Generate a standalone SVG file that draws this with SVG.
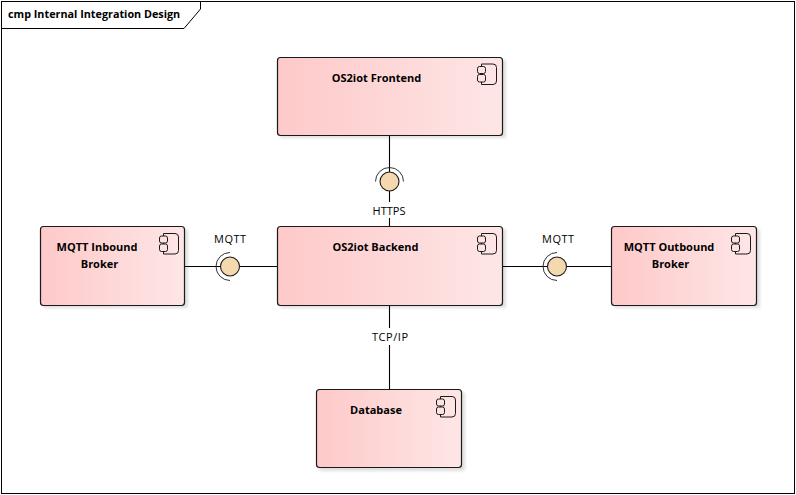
<svg xmlns="http://www.w3.org/2000/svg" width="796" height="495" viewBox="0 0 796 495">
<style>
text{font-family:"Open Sans","Noto Sans","DejaVu Sans",sans-serif;fill:#000}
.t{font-size:11px;font-weight:700;text-anchor:middle}
.l{font-size:11px;text-anchor:middle}
.box{fill:url(#g);stroke:#1a1a1a;stroke-width:1.2}
.shadow{fill:#000;opacity:.13;filter:url(#b)}
.ic{fill:none;stroke:#1a1a1a;stroke-width:1}
.c{fill:none;stroke:#000;stroke-width:1.1}
.ball{fill:#f5d9ae;stroke:#1a1a1a;stroke-width:1.1}
.sock{fill:none;stroke:#333;stroke-width:1}
.bg{fill:#fff}
</style>
<defs>
<linearGradient id="g" x1="0" x2="1" y1="0" y2="0"><stop offset="0" stop-color="#fec9c9"/><stop offset="1" stop-color="#fee6e6"/></linearGradient>
<filter id="b" x="-10%" y="-10%" width="120%" height="120%"><feGaussianBlur stdDeviation="1.5"/></filter>
<g id="icon">
<path class="ic" d="M-8.500 -7.500V-10H3Q6.500 -10 6.500 -6.500V7Q6.500 10.500 3 10.500H-8.500V8M-8.500 -0.500V0.500"/>
<rect class="ic" x="-12.500" y="-7.500" width="8" height="7" rx="2"/>
<rect class="ic" x="-12.500" y="0.500" width="8" height="7.500" rx="2"/>
</g>
</defs>
<rect class="bg" width="796" height="495"/>
<rect x="1.500" y="1.500" width="793" height="492" fill="none" stroke="#000" stroke-width="1"/>
<path d="M1.500 28.500H184L200.500 9V1.500" fill="none" stroke="#000" stroke-width="1"/>
<text x="8" y="18" style="font-size:10.800px;font-weight:700">cmp Internal Integration Design</text>

<g id="connectors">
<path class="c" d="M389.500 135V172M389.500 191V226"/>
<path class="c" d="M185 266.500H220M240 266.500H277"/>
<path class="c" d="M503 266.500H547M567 266.500H611"/>
<path class="c" d="M389.500 305V389"/>
<path class="sock" d="M375.500 181.500A14 14 0 0 1 403.500 181.500"/>
<circle class="ball" cx="389.500" cy="181.500" r="9.500"/>
<path class="sock" d="M230 252.500A14 14 0 0 0 230 280.500"/>
<circle class="ball" cx="230" cy="266.500" r="9.500"/>
<path class="sock" d="M557 252.500A14 14 0 0 0 557 280.500"/>
<circle class="ball" cx="557" cy="266.500" r="9.500"/>
<rect class="bg" x="370" y="202" width="39" height="16"/>
<rect class="bg" x="370" y="328" width="40" height="17"/>
<text class="l" x="389" y="215" textLength="33" lengthAdjust="spacing">HTTPS</text>
<text class="l" x="230" y="243" textLength="32" lengthAdjust="spacing">MQTT</text>
<text class="l" x="558" y="243" textLength="32" lengthAdjust="spacing">MQTT</text>
<text class="l" x="390" y="341" textLength="36" lengthAdjust="spacing">TCP/IP</text>
</g>

<g id="frontend">
<rect class="shadow" x="280" y="60" width="226" height="78" rx="2"/>
<rect class="box" x="277.500" y="57.500" width="225" height="78" rx="3"/>
<text class="t" x="376.500" y="82">OS2iot Frontend</text>
<use href="#icon" x="490" y="74"/>
</g>
<g id="backend">
<rect class="shadow" x="280" y="229" width="226" height="79" rx="2"/>
<rect class="box" x="277.500" y="226.500" width="225" height="79" rx="3"/>
<text class="t" x="375.500" y="251">OS2iot Backend</text>
<use href="#icon" x="490" y="243.500"/>
</g>
<g id="inbound">
<rect class="shadow" x="43" y="229" width="145" height="79" rx="2"/>
<rect class="box" x="40.500" y="226.500" width="144" height="79" rx="3"/>
<text class="t" x="97" y="251">MQTT Inbound</text>
<text class="t" x="99.500" y="268">Broker</text>
<use href="#icon" x="172" y="243.500"/>
</g>
<g id="outbound">
<rect class="shadow" x="614" y="229" width="146" height="79" rx="2"/>
<rect class="box" x="611.500" y="226.500" width="145" height="79" rx="3"/>
<text class="t" x="669" y="251">MQTT Outbound</text>
<text class="t" x="670.500" y="268">Broker</text>
<use href="#icon" x="744" y="243.500"/>
</g>
<g id="database">
<rect class="shadow" x="319" y="392" width="146" height="79" rx="2"/>
<rect class="box" x="316.500" y="389.500" width="145" height="78" rx="3"/>
<text class="t" x="376" y="414">Database</text>
<use href="#icon" x="449" y="406.500"/>
</g>
</svg>
